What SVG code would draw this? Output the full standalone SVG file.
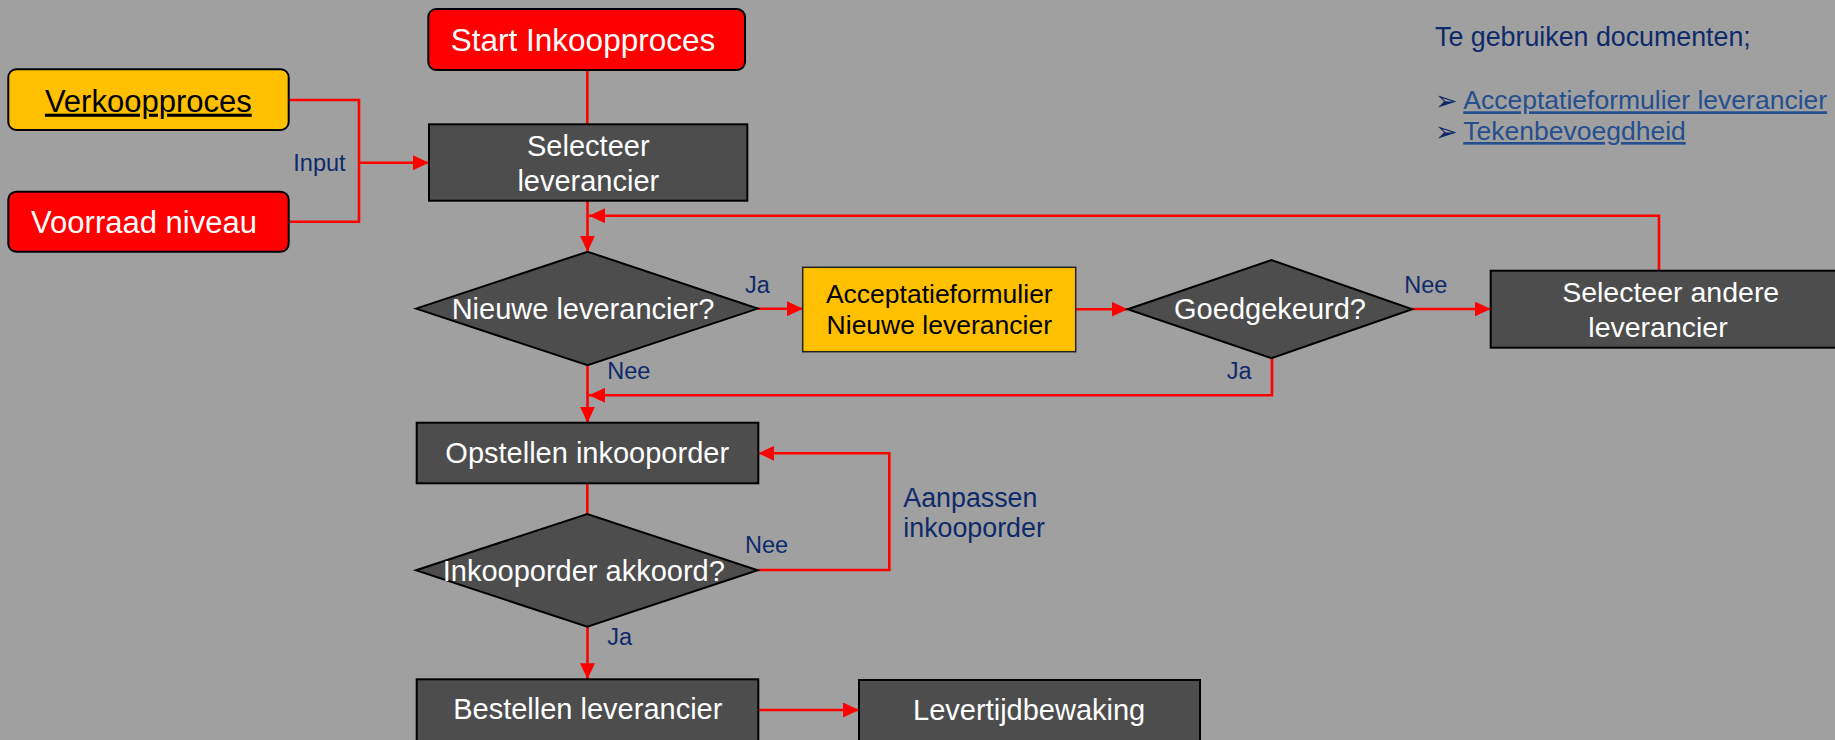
<svg xmlns="http://www.w3.org/2000/svg" width="1835" height="740" viewBox="0 0 1835 740">
<defs>
<marker id="ah" markerUnits="userSpaceOnUse" markerWidth="16" markerHeight="15" refX="16" refY="7.5" orient="auto">
<path d="M0,0 L16,7.5 L0,15 z" fill="#FF0000"/>
</marker>
<style>
.bg{fill:#A0A0A0}
.box{fill:#4D4D4D;stroke:#000;stroke-width:2}
.red{fill:#FF0000;stroke:#000;stroke-width:2}
.gold{fill:#FFC000;stroke:#000;stroke-width:2}
.goldsq{fill:#FFC000;stroke:#222;stroke-width:1.5}
.w{fill:#fff;font-family:"Liberation Sans",Arial,sans-serif}
.k{fill:#000;font-family:"Liberation Sans",Arial,sans-serif}
.lbl{fill:#0E2A6A;font-family:"Liberation Sans",Arial,sans-serif;font-size:23.5px}
.navy{fill:#0E2A6A;font-family:"Liberation Sans",Arial,sans-serif;font-size:26.8px}
.link{fill:#264F8E;font-family:"Liberation Sans",Arial,sans-serif;font-size:26.5px;text-decoration:underline}
.bul{fill:#0E2A6A;font-family:"DejaVu Sans",sans-serif;font-size:27px}
.c{fill:none;stroke:#FF0000;stroke-width:2.6}
.ca{fill:none;stroke:#FF0000;stroke-width:2.6;marker-end:url(#ah)}
.m{text-anchor:middle}
</style>
</defs>
<rect class="bg" x="0" y="0" width="1835" height="740"/>

<g id="connectors">
<line class="c" x1="587.3" y1="70" x2="587.3" y2="124" stroke-width="2"/>
<polyline class="c" points="288.7,100 359,100 359,221.7 288.7,221.7"/>
<line class="ca" x1="359" y1="162.7" x2="429" y2="162.7"/>
<line class="ca" x1="587.5" y1="200.7" x2="587.5" y2="251.7"/>
<polyline class="ca" points="1659,270.7 1659,215.7 589,215.7"/>
<line class="ca" x1="757.7" y1="308.7" x2="803" y2="308.7"/>
<line class="ca" x1="1075.7" y1="309.2" x2="1127.7" y2="309.2"/>
<line class="ca" x1="1412.3" y1="309" x2="1490.7" y2="309"/>
<polyline class="ca" points="1272,358.3 1272,395.3 589,395.3"/>
<line class="ca" x1="587.5" y1="365.3" x2="587.5" y2="422.7"/>
<line class="c" x1="587.3" y1="483.3" x2="587.3" y2="514" stroke-width="2"/>
<polyline class="ca" points="757.7,570 889.3,570 889.3,453.3 758.3,453.3"/>
<line class="ca" x1="587.5" y1="626.7" x2="587.5" y2="679.3"/>
<line class="ca" x1="758.3" y1="710" x2="859" y2="710"/>
</g>

<g id="labels">
<text class="lbl" x="293.3" y="170.7">Input</text>
<text class="lbl" x="745" y="293.3">Ja</text>
<text class="lbl" x="607.3" y="379.3">Nee</text>
<text class="lbl" x="1404.3" y="293.3">Nee</text>
<text class="lbl" x="1226.7" y="379.3">Ja</text>
<text class="lbl" x="745" y="552.7">Nee</text>
<text class="lbl" x="607.3" y="645">Ja</text>
<text class="navy" x="903.3" y="506.7" font-size="26.3">Aanpassen</text>
<text class="navy" x="903.3" y="537.3" font-size="26.3">inkooporder</text>
</g>

<g id="start">
<rect class="red" x="428.3" y="9" width="316.7" height="61" rx="8"/>
<text class="w m" x="583" y="51" font-size="31.5">Start Inkoopproces</text>
</g>

<g id="verkoopproces">
<rect class="gold" x="8.3" y="69.3" width="280.4" height="60.7" rx="8"/>
<text class="k m" x="148.3" y="111.7" font-size="31" text-decoration="underline">Verkoopproces</text>
</g>

<g id="voorraad">
<rect class="red" x="8.3" y="191.7" width="280.4" height="60" rx="8"/>
<text class="w m" x="144" y="233.3" font-size="31">Voorraad niveau</text>
</g>

<g id="selecteer">
<rect class="box" x="429" y="124.3" width="318.3" height="76.4"/>
<text class="w m" x="588.3" y="155.7" font-size="29">Selecteer</text>
<text class="w m" x="588.3" y="191" font-size="29">leverancier</text>
</g>

<g id="nieuwe">
<polygon class="box" points="416,308.6 587.6,251.7 757.7,308.6 587.6,365.3"/>
<text class="w m" x="583" y="319.3" font-size="29">Nieuwe leverancier?</text>
</g>

<g id="acceptatie">
<rect class="goldsq" x="802.7" y="267.3" width="273" height="84.4"/>
<text class="k m" x="939.3" y="302.7" font-size="26.5">Acceptatieformulier</text>
<text class="k m" x="939.3" y="334.3" font-size="26.5">Nieuwe leverancier</text>
</g>

<g id="goedgekeurd">
<polygon class="box" points="1127.7,309.2 1271.5,260 1412.3,309.2 1271.5,358.3"/>
<text class="w m" x="1270" y="319" font-size="29">Goedgekeurd?</text>
</g>

<g id="selecteer-andere">
<rect class="box" x="1490.7" y="270.7" width="350" height="77"/>
<text class="w m" x="1670.7" y="302.3" font-size="28.5">Selecteer andere</text>
<text class="w m" x="1658" y="337.3" font-size="28.5">leverancier</text>
</g>

<g id="opstellen">
<rect class="box" x="416.7" y="422.7" width="341.6" height="60.6"/>
<text class="w m" x="587.2" y="463.3" font-size="29">Opstellen inkooporder</text>
</g>

<g id="akkoord">
<polygon class="box" points="416,570.3 587.3,514 757.7,570.3 587.3,626.7"/>
<text class="w m" x="583.8" y="580.7" font-size="29">Inkooporder akkoord?</text>
</g>

<g id="bestellen">
<rect class="box" x="416.7" y="679.3" width="341.6" height="62"/>
<text class="w m" x="587.8" y="719.3" font-size="29">Bestellen leverancier</text>
</g>

<g id="levertijd">
<rect class="box" x="859" y="680" width="341" height="62"/>
<text class="w m" x="1029.2" y="720" font-size="29">Levertijdbewaking</text>
</g>

<g id="documenten">
<text class="navy" x="1435" y="45.7">Te gebruiken documenten;</text>
<text class="bul" x="1435" y="110">➢</text>
<text class="link" x="1463.3" y="109.3">Acceptatieformulier leverancier</text>
<text class="bul" x="1435" y="140.7">➢</text>
<text class="link" x="1463.3" y="140">Tekenbevoegdheid</text>
</g>
</svg>
